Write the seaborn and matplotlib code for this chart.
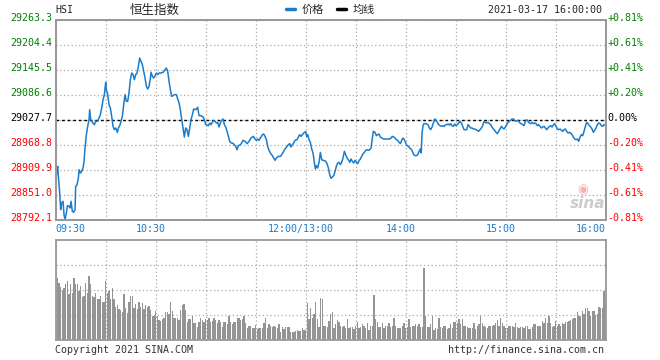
import numpy as np
import pandas as pd
import seaborn as sns
from matplotlib import pyplot as plt
from matplotlib import transforms
from matplotlib.lines import Line2D

# trading minutes after 09:30 (lunch break removed, 330 = 16:00)
minutes = [
    0, 0.6, 1.2, 1.6, 2.4, 3.0, 3.6, 4.4, 5.0, 5.6, 6.4, 7.0, 8.0, 8.6, 9.2, 10.0, 10.8, 11.6, 12.0, 12.8,
    13.6, 14.0, 14.8, 15.6, 16.4, 17.0, 17.6, 18.4, 19.2, 20.0, 20.4, 21.0, 22.0, 23.2, 24.0, 25.2, 26.0, 26.8,
    27.6, 28.4, 29.2, 30.0, 30.4, 31.2, 32.0, 32.8, 33.6, 34.4, 35.2, 36.0, 37.0, 37.6, 38.4, 39.2, 40.0, 40.8,
    41.6, 42.4, 43.2, 44.0, 44.8, 45.6, 46.4, 47.2, 48.0, 48.8, 49.6, 50.4, 51.2, 52.0, 52.8, 53.6, 54.4, 55.2,
    56.0, 56.8, 57.2, 58.0, 58.8, 59.6, 60.4, 61.2, 62.0, 63.2, 64.4, 65.6, 66.4, 67.2, 68.0, 68.8, 69.6, 70.4,
    71.2, 72.4, 73.2, 74.0, 74.8, 75.6, 76.4, 77.2, 78.0, 78.8, 79.6, 80.4, 81.2, 82.0, 82.8, 84.0, 85.2, 86.0,
    87.2, 88.4, 89.2, 90.0, 90.8, 91.6, 92.4, 93.2, 94.0, 94.8, 95.6, 96.4, 97.2, 98.0, 98.8, 99.6, 100.4, 101.2,
    102.0, 102.8, 103.6, 104.4, 105.2, 106.0, 107.2, 108.0, 108.8, 109.6, 110.4,
    111.2, 112.4, 113.6, 114.8, 116.0, 117.2, 118.6, 119.6, 120.4, 121.2, 122.0, 122.8, 124.0, 124.8, 125.6,
    126.4, 127.2, 128.0, 128.8, 130.0, 130.8, 131.6, 132.4, 133.6, 134.8, 135.6, 136.8, 137.6, 138.8, 139.6,
    140.4, 141.2, 142.0, 142.8, 143.6, 144.8, 145.6, 146.4, 147.2, 148.0, 149.2, 150.0, 150.6, 151.2, 152.0,
    152.8, 153.6, 154.4, 155.2, 155.8, 156.4, 157.2, 158.0, 158.8, 159.6, 160.4, 161.2, 162.0, 162.8, 163.6,
    164.4, 165.2, 166.0, 166.8, 167.6, 168.4, 169.2, 170.0, 170.8, 171.6, 172.4, 173.2, 174.0, 174.8, 175.6,
    176.4, 177.2, 178.0, 178.8, 179.6, 180.4, 181.2, 182.0, 182.8, 183.6, 184.4, 185.2, 186.0, 186.8, 187.6,
    188.4, 189.2, 190.0, 190.6, 191.6, 192.4, 193.2, 194.0, 194.8, 195.6, 196.8, 198.0, 199.2, 200.4, 201.2,
    202.0, 202.8, 203.6, 204.4, 205.2, 206.0, 206.8, 207.6, 208.4, 209.2, 210.0, 210.8, 211.6, 212.4, 213.2,
    214.0, 214.8, 215.6, 216.4, 217.2, 218.0, 218.8, 219.2, 219.4, 219.8, 220.4,
    221.0, 222.2, 223.4, 224.2, 225.0, 225.8, 226.6, 227.4, 228.2, 229.0, 229.8, 230.6, 231.4, 232.2, 233.0,
    233.8, 234.6, 235.4, 236.2, 237.0, 237.8, 238.6, 239.4, 240.2, 241.0, 241.8, 242.6, 243.4, 244.2, 245.0,
    245.8, 246.6, 247.4, 248.2, 249.0, 249.8, 250.6, 251.4, 252.2, 253.0, 253.8, 254.6, 255.4, 256.2, 257.0,
    257.8, 258.6, 259.4, 260.2, 261.0, 261.8, 262.6, 263.4, 264.2, 265.0, 265.8, 266.6, 267.4, 268.2, 269.0,
    269.8, 270.6, 271.4, 272.2, 273.0, 273.8, 274.6, 275.4, 276.2, 277.0, 277.8, 278.6, 279.4, 280.2, 281.0,
    281.8, 282.6, 283.4, 284.2, 285.0, 285.8, 286.6, 287.4, 288.2, 289.0, 289.8, 290.6, 291.4, 292.2, 293.0,
    293.8, 294.6, 295.4, 296.2, 297.0, 297.8, 298.6, 299.4, 300.2, 301.0, 301.8, 302.6, 303.4, 304.2, 305.0,
    305.8, 306.6, 307.4, 308.2, 309.0, 309.8, 310.6, 311.4, 312.2, 313.0, 313.8, 314.6, 315.4, 316.2, 317.0,
    317.8, 318.6, 319.4, 320.2, 321.0, 321.8, 322.6, 323.4, 324.2, 325.0, 325.8, 326.6, 327.4, 328.2, 329.0,
    329.8,
]
prices = [
    28879.3, 28906.8, 28918.5, 28895.0, 28855.7, 28816.5, 28832.2, 28836.1, 28804.7, 28792.9, 28808.6, 28825.9,
    28824.3, 28820.4, 28836.1, 28812.5, 28810.2, 28816.5, 28871.4, 28875.4, 28891.1, 28910.7, 28902.8, 28906.8,
    28914.6, 28930.3, 28961.7, 28993.1, 29012.8, 29028.5, 29052.0, 29028.5, 29022.2, 29016.7, 29024.6, 29024.6,
    29032.4, 29040.3, 29056.0, 29075.6, 29087.4, 29116.4, 29099.2, 29087.4, 29063.8, 29056.0, 29036.3, 29012.8,
    29004.9, 29008.9, 28998.6, 29008.9, 29014.3, 29024.6, 29036.3, 29063.8, 29087.4, 29071.7, 29071.7, 29091.3,
    29122.7, 29138.4, 29134.5, 29122.7, 29134.5, 29138.4, 29154.1, 29173.8, 29165.9, 29158.1, 29142.4, 29126.6,
    29107.0, 29100.7, 29107.0, 29126.6, 29140.0, 29130.6, 29126.6, 29132.1, 29138.4, 29134.5, 29138.4, 29138.4,
    29140.0, 29146.3, 29150.2, 29142.4, 29118.8, 29099.2, 29083.5, 29085.0, 29087.4, 29087.4, 29077.2, 29067.8,
    29052.0, 29028.5, 29008.9, 28987.6, 29008.9, 29004.9, 28989.2, 29008.9, 29028.5, 29040.3, 29053.6, 29052.0,
    29057.5, 29037.9, 29037.9, 29034.8, 29028.5, 29016.7, 29015.9, 29014.3, 29020.6, 29016.7, 29022.2, 29026.1,
    29024.6, 29020.6, 29022.2, 29011.2, 29020.6, 29026.9, 29030.1, 29016.7, 29011.2, 29001.0, 28989.2, 28977.4,
    28973.5, 28973.5, 28969.6, 28965.7, 28957.8, 28967.2, 28968.8,
    28971.2, 28979.8, 28977.4, 28971.9, 28977.4, 28985.3, 28989.2, 28982.9, 28979.8, 28982.9, 28979.8, 28985.3,
    28993.1, 28994.7, 28989.2, 28981.4, 28965.7, 28956.2, 28950.0, 28943.7, 28938.2, 28932.7, 28938.2, 28942.1,
    28942.1, 28946.0, 28953.9, 28959.4, 28965.7, 28969.6, 28971.9, 28964.1, 28969.6, 28973.5, 28979.8, 28981.4,
    28987.6, 28993.1, 28989.2, 28993.1, 28998.6, 29000.2, 28989.2, 28993.1, 28981.4, 28975.1, 28959.4, 28950.0,
    28926.4, 28912.3, 28920.1, 28914.6, 28928.0, 28951.5, 28934.2, 28932.7, 28931.9, 28930.3, 28924.8, 28914.6,
    28898.9, 28890.3, 28893.4, 28896.6, 28906.8, 28918.5, 28926.4, 28928.0, 28922.5, 28928.0, 28938.2, 28953.9,
    28946.0, 28938.2, 28934.2, 28928.0, 28935.8, 28930.3, 28926.4, 28932.7, 28928.0, 28924.8, 28931.9, 28935.8,
    28942.1, 28948.4, 28951.5, 28956.2, 28957.8, 28956.2, 28957.8, 28961.7, 28985.3, 29001.0, 28998.6, 28990.8,
    28993.1, 28994.7, 28987.6, 28985.3, 28982.9, 28982.9, 28982.9, 28982.9, 28985.3, 28989.2, 28987.6, 28985.3,
    28981.4, 28979.8, 28975.1, 28971.9, 28979.8, 28985.3, 28981.4, 28973.5, 28967.2, 28965.7, 28961.7, 28959.4,
    28953.9, 28946.0, 28943.7, 28943.7, 28946.0, 28953.9, 28959.4, 28950.0, 28957.8, 28997.1, 29014.3,
    29019.1, 29019.1, 29016.7, 29008.9, 29004.9, 29011.2, 29020.6, 29030.1, 29026.9, 29022.2, 29016.7, 29014.3,
    29012.8, 29014.3, 29012.8, 29015.9, 29016.7, 29018.3, 29015.9, 29019.1, 29014.3, 29012.8, 29018.3, 29014.3,
    29016.7, 29020.6, 29024.6, 29020.6, 29012.8, 29004.9, 29004.9, 29004.9, 29016.7, 29012.8, 29008.9, 29008.9,
    29006.5, 29006.5, 29004.9, 29003.4, 29001.0, 29004.9, 29008.9, 29014.3, 29024.6, 29022.2, 29020.6, 29022.2,
    29019.1, 29016.7, 29011.2, 29006.5, 29003.4, 28998.6, 28995.5, 29001.0, 29006.5, 29012.8, 29008.9, 29006.5,
    29011.2, 29016.7, 29022.2, 29024.6, 29026.9, 29030.1, 29030.1, 29026.9, 29024.6, 29026.9, 29024.6, 29020.6,
    29019.1, 29016.7, 29014.3, 29024.6, 29028.5, 29024.6, 29020.6, 29019.1, 29022.2, 29019.1, 29020.6, 29019.1,
    29014.3, 29016.7, 29012.8, 29008.9, 29011.2, 29012.8, 29008.9, 29004.9, 29008.9, 29012.8, 29014.3, 29011.2,
    29015.9, 29019.1, 29012.8, 29006.5, 29004.9, 29006.5, 29003.4, 29001.0, 29004.9, 29006.5, 29001.0, 28997.1,
    28998.6, 28997.1, 28993.1, 28987.6, 28982.9, 28981.4, 28982.9, 28977.4, 28987.6, 28993.1, 28990.8, 29001.0,
    29012.8, 29022.2, 29019.1, 29014.3, 29011.2, 29006.5, 28998.6, 29003.4, 29008.9, 29016.7, 29020.6, 29019.1,
    29014.3, 29012.8, 29016.7, 29015.9,
]

# per-minute volume, relative units (panel top = 100)
vol_am = [
    62, 57, 53, 50, 52, 56, 59, 46, 56, 47, 62, 56, 56, 49, 54, 43, 44, 57, 47, 64,
    56, 44, 43, 47, 41, 41, 44, 38, 38, 59, 47, 49, 41, 52, 41, 33, 35, 31, 30, 28,
    46, 32, 27, 38, 44, 44, 32, 36, 31, 38, 33, 37, 31, 35, 33, 34, 30, 24, 24, 29,
    24, 20, 19, 21, 22, 28, 28, 26, 38, 29, 22, 22, 22, 20, 30, 35, 36, 30, 18, 21,
    21, 24, 17, 17, 13, 18, 22, 20, 18, 21, 20, 22, 18, 19, 22, 20, 17, 20, 18, 13,
    18, 18, 16, 24, 18, 16, 18, 18, 22, 22, 20, 21, 24, 17, 12, 14, 14, 12, 12, 15,
    11, 12, 12, 12, 17, 22, 12, 16, 14, 13, 14, 13, 12, 16, 8, 13, 11, 13, 13, 13,
    8, 8, 8, 9, 10, 9, 9, 12, 10, 10,
]
vol_pm = [
    37, 21, 32, 22, 26, 38, 21, 13, 42, 41, 14, 14, 13, 19, 26, 28, 12, 16, 20, 18,
    14, 13, 14, 12, 21, 12, 13, 13, 11, 14, 18, 12, 13, 16, 14, 12, 17, 10, 14, 14,
    45, 21, 18, 13, 13, 17, 12, 14, 14, 17, 13, 14, 22, 14, 12, 12, 12, 14, 17, 12,
    13, 21, 13, 14, 14, 16, 14, 16, 13, 13, 72, 24, 13, 13, 16, 24, 10, 12, 11, 22,
    13, 12, 14, 14, 11, 12, 16, 12, 18, 18, 17, 21, 16, 21, 14, 14, 13, 12, 12, 12,
    17, 11, 14, 16, 24, 17, 14, 13, 12, 14, 14, 14, 15, 17, 20, 14, 22, 17, 14, 12,
    12, 14, 14, 14, 13, 17, 13, 12, 13, 13, 12, 14, 14, 11, 11, 13, 16, 16, 14, 14,
    14, 19, 17, 22, 17, 24, 17, 13, 14, 19, 14, 16, 14, 17, 16, 18, 18, 19, 20, 21,
    22, 22, 28, 24, 24, 29, 26, 32, 32, 29, 24, 29, 29, 25, 26, 33, 32, 32, 49, 40,
]

prev_close = 29027.7
price_ticks = [28792.1, 28851.0, 28909.9, 28968.8, 29027.7, 29086.6, 29145.5, 29204.4, 29263.3]
time_ticks = list(range(0, 331, 30))
time_labels = ['09:30', '', '10:30', '', '', '12:00/13:00', '', '14:00', '', '15:00', '', '16:00']

BLUE = '#1a7ccb'
GREEN = '#008000'
RED = '#ff0000'
GRID = '#aaaaaa'
BORDER = '#999999'

sns.set_style('white')
plt.rcParams['font.family'] = ['DejaVu Sans Mono', 'Noto Sans CJK SC']
CJK = ['Noto Sans CJK SC', 'DejaVu Sans']

fig = plt.figure(figsize=(6.6, 3.6), dpi=100)
ax = fig.add_axes([55.7 / 660, 140 / 360, 550 / 660, 200 / 360])
axv = fig.add_axes([55.7 / 660, 20 / 360, 550 / 660, 100 / 360])

df = pd.DataFrame({'minute': minutes, 'price': prices})
sns.lineplot(data=df, x='minute', y='price', estimator=None, sort=False,
             color=BLUE, linewidth=1.1, ax=ax)
ax.axhline(prev_close, color='black', linestyle=(0, (2, 2)), linewidth=1.0, zorder=1)

ax.set_xlim(0, 330)
ax.set_ylim(price_ticks[0], price_ticks[-1])
ax.set_xticks(time_ticks)
ax.set_xticklabels(time_labels)
ax.set_yticks(price_ticks)
ax.set_yticklabels([f'{t:.1f}' for t in price_ticks])
ax.set_xlabel('')
ax.set_ylabel('')
ax.grid(True, color=GRID, linestyle=(0, (1, 2)), linewidth=0.9)
ax.tick_params(axis='both', length=0, labelsize=7.2)
ax.tick_params(axis='y', pad=2.7)
ax.tick_params(axis='x', pad=3, labelcolor=BLUE)

up = transforms.ScaledTranslation(0, 0.03, fig.dpi_scale_trans)
for t, lab in zip(price_ticks, ax.get_yticklabels()):
    lab.set_color(GREEN if t > prev_close + 0.01 else RED if t < prev_close - 0.01 else 'black')
    lab.set_transform(lab.get_transform() + up)

left = transforms.ScaledTranslation(-0.05, 0, fig.dpi_scale_trans)
xlabs = ax.get_xticklabels()
for i, lab in enumerate(xlabs):
    if i == 0:
        lab.set_horizontalalignment('left')
    elif i == len(xlabs) - 1:
        lab.set_horizontalalignment('right')
    else:
        lab.set_transform(lab.get_transform() + left)

ax2 = ax.twinx()
ax2.set_ylim(ax.get_ylim())
ax2.set_yticks(price_ticks)
pct = [(t - prev_close) / prev_close * 100 for t in price_ticks]
ax2.set_yticklabels([f'{p:+.2f}%' if abs(p) > 0.001 else '0.00%' for p in pct])
ax2.tick_params(axis='y', length=0, labelsize=7.2, pad=1)
for p, lab in zip(pct, ax2.get_yticklabels()):
    lab.set_color(GREEN if p > 0.001 else RED if p < -0.001 else 'black')
    lab.set_transform(lab.get_transform() + up)

for a in (ax, ax2, axv):
    for s in a.spines.values():
        s.set_color(BORDER)
        s.set_linewidth(1.3)

# volume panel
vdf = pd.DataFrame({'minute': np.arange(1, len(vol_am) + len(vol_pm) + 1),
                    'vol': vol_am + vol_pm})
sns.barplot(data=vdf, x='minute', y='vol', native_scale=True, width=0.72,
            color='#949494', saturation=1, linewidth=0, errorbar=None,
            antialiased=False, ax=axv)
axv.set_xlim(0, 330)
axv.set_ylim(0, 100)
axv.set_xticks(time_ticks)
axv.set_yticks([25, 50, 75])
axv.set_xticklabels([])
axv.set_yticklabels([])
axv.set_xlabel('')
axv.set_ylabel('')
axv.tick_params(length=0)
axv.grid(True, color=GRID, linestyle=(0, (1, 2)), linewidth=0.9)
axv.set_axisbelow(True)

# header
fig.text(55 / 660, 1 - 10 / 360, 'HSI', fontsize=7.2, va='center', ha='left')
fig.text(155 / 660, 1 - 10 / 360, '恒生指数', fontsize=9, va='center', ha='center', family=CJK)
fig.text(602 / 660, 1 - 10 / 360, '2021-03-17 16:00:00', fontsize=7.2, va='center', ha='right')
handles = [Line2D([], [], color=BLUE, linewidth=2.5), Line2D([], [], color='black', linewidth=2.5)]
fig.legend(handles, ['价格', '均线'], loc='center left', bbox_to_anchor=(286 / 660, 1 - 10 / 360),
           ncol=2, frameon=False, handlelength=0.8, handletextpad=0.6, columnspacing=1.2,
           borderpad=0, borderaxespad=0, prop={'family': CJK, 'size': 8})

# footer and watermark
fig.text(55 / 660, 1 - 350 / 360, 'Copyright 2021 SINA.COM', fontsize=7.2, va='center', ha='left', color='#333333')
fig.text(604 / 660, 1 - 350 / 360, 'http://finance.sina.com.cn', fontsize=7.2, va='center', ha='right', color='#333333')
fig.text(588 / 660, 1 - 203 / 360, 'sina', fontsize=11, fontstyle='italic', fontweight='bold',
         color='#cccccc', va='center', ha='center', family='DejaVu Sans')
fig.text(583 / 660, 1 - 190 / 360, '◉', fontsize=9, color='#f2b3b3', va='center', ha='center', family='DejaVu Sans')

fig.savefig('out.png', dpi=100)
